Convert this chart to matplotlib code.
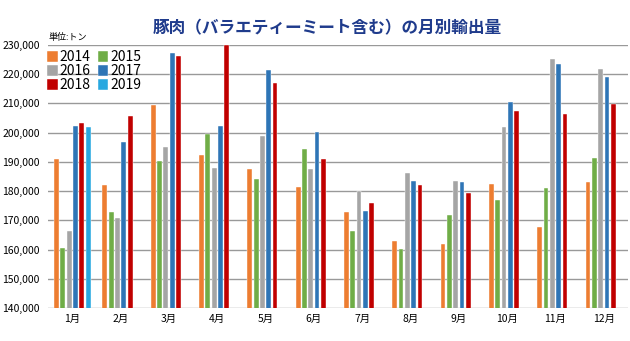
import matplotlib
matplotlib.use("Agg")
import matplotlib.pyplot as plt
import numpy as np

plt.rcParams['font.family'] = ['Noto Sans CJK JP', 'DejaVu Sans']

months = ["1月", "2月", "3月", "4月", "5月", "6月", "7月", "8月", "9月", "10月", "11月", "12月"]
years = ["2014", "2015", "2016", "2017", "2018", "2019"]

v2014 = [191000, 182000, 209600, 192400, 187600, 181400, 172900, 162800, 161800, 182400, 167800, 183200]
v2015 = [160500, 173000, 190400, 199500, 184300, 194300, 166200, 160100, 171800, 176800, 181100, 191400]
v2016 = [166300, 170900, 195100, 187900, 198700, 187600, 179900, 186300, 183400, 202000, 225200, 221900]
v2017 = [202200, 196700, 227300, 202300, 221500, 200200, 173300, 183400, 183100, 210600, 223500, 219100]
v2018 = [203200, 205600, 226200, 230000, 216900, 191000, 175900, 182000, 179300, 207400, 206400, 209700]
v2019 = [201900]

series = [v2014, v2015, v2016, v2017, v2018, v2019]
colors = ["#ED7D31", "#70AD47", "#A5A5A5", "#2E75B6", "#C00000", "#29A8E0"]

fig = plt.figure(figsize=(6.3, 3.41), dpi=100)
ax = fig.add_axes([0.0763, 0.0968, 0.9205, 0.7712])

x = np.arange(len(months))
step = 0.131
width = 0.102
handles = []
for i, (vals, c, lab) in enumerate(zip(series, colors, years)):
    xs = x[:len(vals)] + (i - 2.5) * step
    b = ax.bar(xs, vals, width=width, color=c, label=lab, zorder=3,
               edgecolor="white", linewidth=0.3)
    handles.append(b)

ax.set_xlim(-0.5, len(months) - 0.5)
ax.set_ylim(140000, 230000)
ax.set_yticks(np.arange(140000, 230001, 10000))
ax.set_yticklabels([f"{v:,}" for v in range(140000, 230001, 10000)], fontsize=7.5)
ax.set_xticks(x)
ax.set_xticklabels(months, fontsize=7.5)
ax.tick_params(axis='both', length=0, pad=4)
ax.tick_params(axis='y', pad=6)
for s in ax.spines.values():
    s.set_visible(False)
ax.yaxis.grid(True, color="#999999", linewidth=1, zorder=0)
ax.set_axisbelow(True)

# row-major order: (2014, 2015), (2016, 2017), (2018, 2019)
order = [0, 2, 4, 1, 3, 5]
leg = ax.legend([handles[k] for k in order], [years[k] for k in order],
                loc="upper left", bbox_to_anchor=(-0.004, 0.985), ncol=2, frameon=False,
                fontsize=10, handlelength=0.75, handleheight=0.75, handletextpad=0.15,
                columnspacing=0.5, labelspacing=0.0, borderaxespad=0.0, borderpad=0.1)

fig.text(0.0763, 0.891, "単位:トン", fontsize=6.5, ha="left", va="center")
fig.text(0.519, 0.916, "豚肉（バラエティーミート含む）の月別輸出量", fontsize=12,
         fontweight="bold", color="#1F3B8C", ha="center", va="center")

fig.savefig("out.png", dpi=100)
